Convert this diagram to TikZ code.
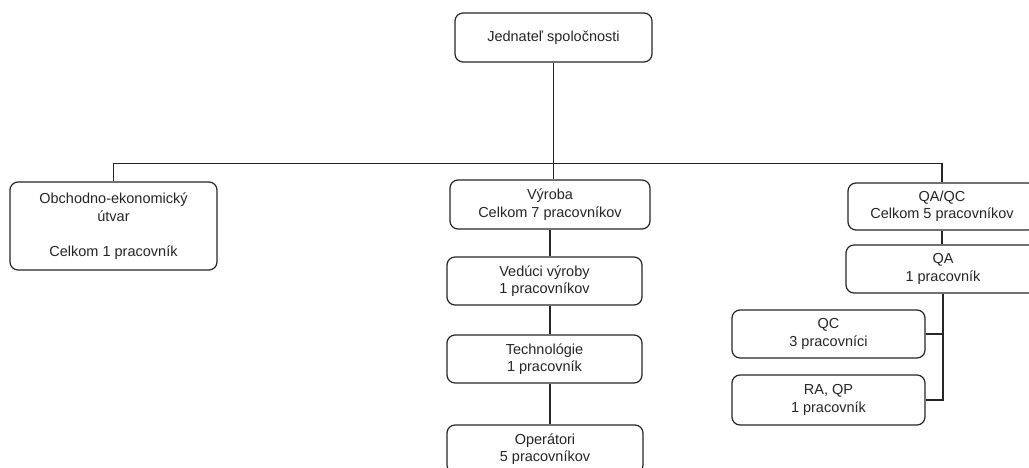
\documentclass[tikz,border=0pt]{standalone}
\usepackage{fontspec}
\setmainfont{Liberation Sans}
\begin{document}
\begin{tikzpicture}[x=1pt,y=-1pt,
  box/.style={draw=black!85, line width=1.2pt, rounded corners=8pt, fill=white,
    inner sep=0pt, align=center, text=black!85,
    font=\fontsize{14.5}{17.5}\selectfont},
  link/.style={draw=black!85, line width=1.2pt}]
  \useasboundingbox (0,0) rectangle (1029,468);
  \clip (0,0) rectangle (1029,468);

  % boxes
  \node[box, minimum width=197pt, minimum height=49pt] (jed) at (553.5,37.5) {Jednateľ spoločnosti};
  \node[box, minimum width=207pt, minimum height=88pt] (obch) at (113.5,226)
    {Obchodno-ekonomický\\útvar\\[17.5pt]Celkom 1 pracovník};
  \node[box, minimum width=200pt, minimum height=49pt] (vyr) at (550,204.5) {Výroba\\Celkom 7 pracovníkov};
  \node[box, minimum width=195pt, minimum height=48pt] (ved) at (544.5,281) {Vedúci výroby\\1 pracovníkov};
  \node[box, minimum width=195pt, minimum height=48pt] (tech) at (544.5,359) {Technológie\\1 pracovník};
  \node[box, minimum width=196pt, minimum height=48pt] (oper) at (545,449) {Operátori\\5 pracovníkov};
  \node[box, minimum width=188pt, minimum height=47pt] (qaqc) at (942,206.5) {QA/QC\\Celkom 5 pracovníkov};
  \node[box, minimum width=194pt, minimum height=48pt] (qa) at (943,269) {QA\\1 pracovník};
  \node[box, minimum width=193pt, minimum height=48pt] (qc) at (828.5,334) {QC\\3 pracovníci};
  \node[box, minimum width=193pt, minimum height=50pt] (ra) at (828.5,400) {RA, QP\\1 pracovník};

  % connectors
  \coordinate (bus) at (553.5,163.5);
  \draw[link] (obch.north) |- (bus) -| (qaqc.north);
  \draw[link] (jed.south) -- (jed.south |- vyr.north);
  \draw[link] (vyr.south) -- (vyr.south |- ved.north);
  \draw[link] (vyr.south |- ved.south) -- (vyr.south |- tech.north);
  \draw[link] (vyr.south |- tech.south) -- (vyr.south |- oper.north);
  \draw[link] (qaqc.south) -- (qa.north -| qaqc.south);
  \draw[link] (qa.south) |- (qc.east);
  \draw[link] (qa.south) |- (ra.east);
\end{tikzpicture}
\end{document}
